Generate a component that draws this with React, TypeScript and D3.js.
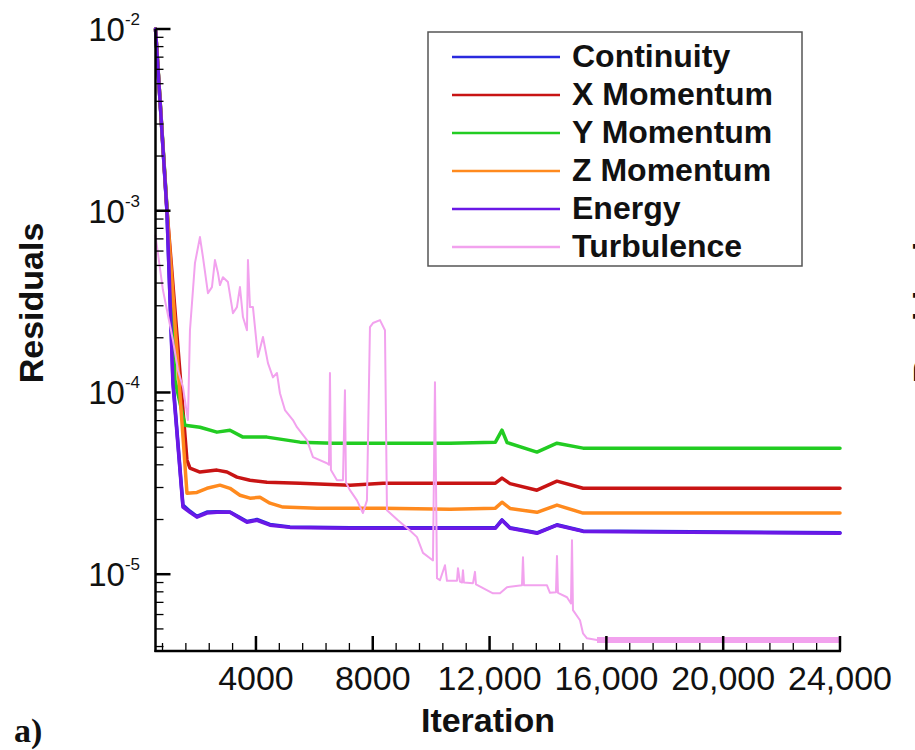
import React from "react";
import * as d3 from "d3";

type Pt = [number, number];

// ---- data (iteration, residual) ----
const continuity: Pt[] = [
  [560, 1e-2], [950, 1e-3], [1160, 1.15e-4], [1500, 2.4e-5], [1740, 2.22e-5], [1979, 2.08e-5],
  [2322, 2.2e-5], [2664, 2.21e-5], [3110, 2.2e-5], [3452, 2.05e-5], [3692, 1.95e-5], [4034, 2.0e-5],
  [4479, 1.88e-5], [5164, 1.82e-5], [7219, 1.8e-5], [9514, 1.8e-5], [12200, 1.8e-5], [12425, 1.99e-5],
  [12700, 1.8e-5], [13623, 1.69e-5], [14308, 1.87e-5], [15200, 1.73e-5], [24000, 1.69e-5],
];
const xMomentum: Pt[] = [
  [560, 1e-2], [955, 1e-3], [1637, 4.25e-5], [1740, 3.84e-5], [2082, 3.65e-5], [2664, 3.74e-5],
  [3007, 3.65e-5], [3349, 3.42e-5], [3795, 3.29e-5], [4377, 3.21e-5], [5507, 3.17e-5], [7219, 3.09e-5],
  [8349, 3.17e-5], [10644, 3.17e-5], [12200, 3.17e-5], [12425, 3.38e-5], [12700, 3.15e-5],
  [13623, 2.9e-5], [14308, 3.25e-5], [15200, 2.97e-5], [24000, 2.97e-5],
];
const yMomentum: Pt[] = [
  [560, 1e-2], [960, 1e-3], [1226, 1.17e-4], [1568, 6.61e-5], [2082, 6.44e-5], [2664, 6.05e-5],
  [3110, 6.2e-5], [3555, 5.68e-5], [4377, 5.68e-5], [5507, 5.33e-5], [6637, 5.26e-5], [8349, 5.26e-5],
  [10644, 5.26e-5], [12200, 5.33e-5], [12425, 6.2e-5], [12600, 5.3e-5], [13623, 4.7e-5],
  [14308, 5.26e-5], [15200, 4.94e-5], [24000, 4.94e-5],
];
const zMomentum: Pt[] = [
  [560, 1e-2], [955, 1e-3], [1637, 2.79e-5], [1979, 2.82e-5], [2322, 2.97e-5], [2767, 3.09e-5],
  [3110, 2.97e-5], [3452, 2.72e-5], [3795, 2.62e-5], [4137, 2.65e-5], [4479, 2.46e-5], [4925, 2.34e-5],
  [6089, 2.31e-5], [8349, 2.31e-5], [10644, 2.28e-5], [12200, 2.31e-5], [12425, 2.49e-5],
  [12700, 2.3e-5], [13623, 2.19e-5], [14308, 2.4e-5], [15200, 2.17e-5], [24000, 2.17e-5],
];
const energy: Pt[] = [
  [560, 1e-2], [952, 1e-3], [1157, 1.12e-4], [1500, 2.34e-5], [1740, 2.19e-5], [1979, 2.06e-5],
  [2322, 2.17e-5], [2664, 2.19e-5], [3110, 2.19e-5], [3452, 2.03e-5], [3692, 1.93e-5], [4034, 1.98e-5],
  [4479, 1.86e-5], [5164, 1.81e-5], [7219, 1.79e-5], [9514, 1.79e-5], [12200, 1.79e-5], [12425, 1.98e-5],
  [12700, 1.79e-5], [13623, 1.68e-5], [14308, 1.86e-5], [15200, 1.72e-5], [24000, 1.68e-5],
];
const turbulence: Pt[] = [
  [560, 7.3e-4], [815, 3.66e-4], [1157, 1.94e-4], [1329, 1.33e-4], [1500, 1.07e-4], [1671, 7.05e-5],
  [1740, 2.2e-4], [1911, 5.15e-4], [2082, 7.16e-4], [2185, 5.56e-4], [2356, 3.52e-4], [2493, 3.8e-4],
  [2596, 5.35e-4], [2699, 4.54e-4], [2767, 3.9e-4], [2870, 4.31e-4], [3041, 4.05e-4], [3212, 2.73e-4],
  [3349, 2.95e-4], [3452, 3.8e-4], [3555, 2.6e-4], [3692, 2.2e-4], [3726, 5.35e-4], [3795, 2.95e-4],
  [3897, 2.95e-4], [4068, 1.57e-4], [4240, 2.02e-4], [4411, 1.45e-4], [4582, 1.21e-4], [4719, 1.28e-4],
  [4822, 9.9e-5], [4993, 8.0e-5], [5267, 7.05e-5], [5404, 6.44e-5], [5747, 5.47e-5], [5952, 4.41e-5],
  [6432, 4.08e-5], [6500, 4.0e-5], [6534, 1.28e-4], [6568, 3.74e-5], [6774, 3.29e-5], [6979, 3.29e-5],
  [7048, 1.03e-4], [7082, 3.2e-5], [7219, 2.9e-5], [7459, 2.55e-5], [7664, 2.17e-5], [7801, 2.55e-5],
  [7904, 2.29e-4], [8007, 2.41e-4], [8247, 2.5e-4], [8418, 2.2e-4], [8486, 2.25e-5], [8863, 1.98e-5],
  [9274, 1.74e-5], [9514, 1.6e-5], [9719, 1.31e-5], [10062, 1.19e-5], [10130, 1.14e-4], [10199, 9.5e-6],
  [10301, 9.27e-6], [10473, 1.12e-5], [10541, 9.2e-6], [10884, 9.2e-6], [10918, 1.08e-5], [10986, 9.1e-6],
  [11055, 9.0e-6], [11089, 1.05e-5], [11123, 9.0e-6], [11432, 8.93e-6], [11500, 1.03e-5], [11534, 8.8e-6],
  [12116, 7.85e-6], [12356, 7.85e-6], [12596, 8.48e-6], [13110, 8.69e-6], [13144, 1.24e-5], [13178, 8.69e-6],
  [13966, 8.69e-6], [14068, 7.9e-6], [14274, 7.96e-6], [14308, 1.26e-5], [14342, 7.9e-6], [14651, 7.47e-6],
  [14788, 6.9e-6], [14822, 1.54e-5], [14856, 6.34e-6], [15096, 5.58e-6], [15199, 4.73e-6], [15336, 4.44e-6],
  [15678, 4.34e-6], [24000, 4.34e-6],
];

const seriesNames = ["Continuity", "X Momentum", "Y Momentum", "Z Momentum", "Energy", "Turbulence"];
const seriesColors = ["#2a2ade", "#c81414", "#22cc22", "#ff8a1e", "#6a18e6", "#f2a2ee"];
const seriesData = [continuity, xMomentum, yMomentum, zMomentum, energy, turbulence];
const seriesWidths = [3.5, 3.5, 3.5, 3.5, 3.5, 2];

const xMajorTicks = [4000, 8000, 12000, 16000, 20000, 24000];
const xTickLabels = ["4000", "8000", "12,000", "16,000", "20,000", "24,000"];
const yDecades = [1e-2, 1e-3, 1e-4, 1e-5];
const yExponents = ["-2", "-3", "-4", "-5"];

const X0 = 155.5, X1 = 840, Y0 = 651, Y1 = 29;

export default function App() {
  const x = d3.scaleLinear().domain([560, 24000]).range([X0, X1]);
  const y = d3.scaleLog().domain([3.78e-6, 1e-2]).range([Y0, Y1]);
  const line = d3.line<Pt>().x((d) => x(d[0])).y((d) => y(d[1]));

  const xMinor = d3.range(800, 24000, 800).filter((v) => v % 4000 !== 0);
  const yMinor: number[] = [];
  for (let e = -6; e <= -3; e++) for (let m = 2; m <= 9; m++) {
    const v = m * Math.pow(10, e);
    if (v >= 3.78e-6 && v < 1e-2) yMinor.push(v);
  }
  const tail = turbulence.filter((d) => d[0] >= 15500);
  const sans = "'Liberation Sans', Arial, Helvetica, sans-serif";

  return (
    <svg width={915} height={750} style={{ position: "absolute", left: 0, top: 0, background: "#fff" }}
      fontFamily={sans}>
      <rect x={0} y={0} width={915} height={750} fill="#fff" />
      {/* series */}
      {seriesData.map((d, i) => (
        <path key={i} d={line(d) || ""} fill="none" stroke={seriesColors[i]} strokeWidth={seriesWidths[i]}
          strokeLinejoin="round" strokeLinecap="round" />
      ))}
      <path d={line(tail) || ""} fill="none" stroke={seriesColors[5]} strokeWidth={6} />

      {/* axes */}
      <g stroke="#000" fill="none">
        <line x1={X0} y1={Y1} x2={X0} y2={Y0 + 1} strokeWidth={2.5} />
        <line x1={X0 - 1} y1={Y0} x2={X1 + 1} y2={Y0} strokeWidth={2.5} />
        {yDecades.map((v) => (
          <line key={"yM" + v} x1={X0} x2={X0 + 15} y1={y(v)} y2={y(v)} strokeWidth={2.5} />
        ))}
        {yMinor.map((v) => (
          <line key={"ym" + v} x1={X0} x2={X0 + 8} y1={y(v)} y2={y(v)} strokeWidth={1.3} />
        ))}
        {xMajorTicks.map((v) => (
          <line key={"xM" + v} x1={x(v)} x2={x(v)} y1={Y0} y2={Y0 - 15} strokeWidth={2.5} />
        ))}
        {xMinor.map((v) => (
          <line key={"xm" + v} x1={x(v)} x2={x(v)} y1={Y0} y2={Y0 - 8} strokeWidth={1.3} />
        ))}
      </g>

      {/* y tick labels */}
      {yDecades.map((v, i) => (
        <text key={"yl" + v} x={140} y={y(v) + 12} textAnchor="end" fontSize={33} fill="#111">
          <tspan>10</tspan>
          <tspan fontSize={17} dy={-16}>{yExponents[i]}</tspan>
        </text>
      ))}
      {/* x tick labels */}
      {xMajorTicks.map((v, i) => (
        <text key={"xl" + v} x={x(v)} y={690} textAnchor="middle" fontSize={34} fill="#111">
          {xTickLabels[i]}
        </text>
      ))}

      {/* axis titles */}
      <text x={488} y={732} textAnchor="middle" fontSize={34} fontWeight="bold" fill="#111">Iteration</text>
      <text transform="translate(43,303) rotate(-90)" textAnchor="middle" fontSize={34} fontWeight="bold" fill="#111">
        Residuals
      </text>
      <text transform="translate(937,303) rotate(-90)" textAnchor="middle" fontSize={34} fontWeight="bold" fill="#111">
        Residuals
      </text>
      <text x={14} y={742} fontFamily="'Liberation Serif', 'Times New Roman', serif" fontSize={34} fontWeight="bold" fill="#111">
        a)
      </text>

      {/* legend */}
      <rect x={428} y={32} width={374} height={234} fill="#fff" stroke="#555" strokeWidth={1.5} />
      {seriesNames.map((n, i) => {
        const ry = 57 + 38 * i;
        return (
          <g key={n}>
            <line x1={452} x2={560} y1={ry} y2={ry} stroke={seriesColors[i]} strokeWidth={2.5} />
            <text x={572} y={ry + 10} fontSize={32} fontWeight="bold" fill="#111">{n}</text>
          </g>
        );
      })}
    </svg>
  );
}
